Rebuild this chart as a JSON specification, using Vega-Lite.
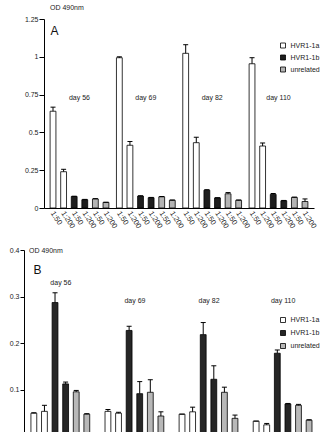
{
  "$schema": "https://vega.github.io/schema/vega-lite/v6.json",
  "padding": {"left": 0, "top": 3, "right": 0, "bottom": 0},
  "background": "white",
  "config": {
    "view": {"stroke": null},
    "font": "Liberation Sans",
    "concat": {"spacing": 16},
    "axis": {
      "domainColor": "black",
      "domainWidth": 1,
      "tickColor": "black",
      "tickWidth": 1,
      "labelColor": "#222",
      "labelFontSize": 7,
      "labelPadding": 2,
      "labelOverlap": false,
      "grid": false
    },
    "legend": {
      "title": null,
      "orient": "none",
      "padding": 0,
      "symbolType": "square",
      "symbolSize": 25,
      "symbolStrokeColor": "black",
      "symbolStrokeWidth": 0.8,
      "labelFontSize": 7,
      "labelColor": "#222",
      "labelOffset": 4
    },
    "title": {"fontSize": 7, "fontWeight": "normal", "color": "#222", "anchor": "start", "frame": "group"}
  },
  "datasets": {
    "days": [
      {"day": "day 56"}, {"day": "day 69"}, {"day": "day 82"}, {"day": "day 110"}
    ],
    "panelA": [
      {"day": "day 56", "antigen": "HVR1-1a", "dilution": "1:50", "series": "HVR1-1a 1:50", "od": 0.64, "upper": 0.667},
      {"day": "day 56", "antigen": "HVR1-1a", "dilution": "1:200", "series": "HVR1-1a 1:200", "od": 0.24, "upper": 0.256},
      {"day": "day 56", "antigen": "HVR1-1b", "dilution": "1:50", "series": "HVR1-1b 1:50", "od": 0.076, "upper": 0.078},
      {"day": "day 56", "antigen": "HVR1-1b", "dilution": "1:200", "series": "HVR1-1b 1:200", "od": 0.055, "upper": 0.057},
      {"day": "day 56", "antigen": "unrelated", "dilution": "1:50", "series": "unrelated 1:50", "od": 0.06, "upper": 0.062},
      {"day": "day 56", "antigen": "unrelated", "dilution": "1:200", "series": "unrelated 1:200", "od": 0.037, "upper": 0.038},
      {"day": "day 69", "antigen": "HVR1-1a", "dilution": "1:50", "series": "HVR1-1a 1:50", "od": 0.994, "upper": 1.0},
      {"day": "day 69", "antigen": "HVR1-1a", "dilution": "1:200", "series": "HVR1-1a 1:200", "od": 0.415, "upper": 0.44},
      {"day": "day 69", "antigen": "HVR1-1b", "dilution": "1:50", "series": "HVR1-1b 1:50", "od": 0.079, "upper": 0.081},
      {"day": "day 69", "antigen": "HVR1-1b", "dilution": "1:200", "series": "HVR1-1b 1:200", "od": 0.068, "upper": 0.07},
      {"day": "day 69", "antigen": "unrelated", "dilution": "1:50", "series": "unrelated 1:50", "od": 0.074, "upper": 0.076},
      {"day": "day 69", "antigen": "unrelated", "dilution": "1:200", "series": "unrelated 1:200", "od": 0.051, "upper": 0.053},
      {"day": "day 82", "antigen": "HVR1-1a", "dilution": "1:50", "series": "HVR1-1a 1:50", "od": 1.023, "upper": 1.08},
      {"day": "day 82", "antigen": "HVR1-1a", "dilution": "1:200", "series": "HVR1-1a 1:200", "od": 0.432, "upper": 0.468},
      {"day": "day 82", "antigen": "HVR1-1b", "dilution": "1:50", "series": "HVR1-1b 1:50", "od": 0.118, "upper": 0.121},
      {"day": "day 82", "antigen": "HVR1-1b", "dilution": "1:200", "series": "HVR1-1b 1:200", "od": 0.067, "upper": 0.068},
      {"day": "day 82", "antigen": "unrelated", "dilution": "1:50", "series": "unrelated 1:50", "od": 0.094, "upper": 0.102},
      {"day": "day 82", "antigen": "unrelated", "dilution": "1:200", "series": "unrelated 1:200", "od": 0.051, "upper": 0.053},
      {"day": "day 110", "antigen": "HVR1-1a", "dilution": "1:50", "series": "HVR1-1a 1:50", "od": 0.954, "upper": 0.994},
      {"day": "day 110", "antigen": "HVR1-1a", "dilution": "1:200", "series": "HVR1-1a 1:200", "od": 0.41, "upper": 0.43},
      {"day": "day 110", "antigen": "HVR1-1b", "dilution": "1:50", "series": "HVR1-1b 1:50", "od": 0.09, "upper": 0.096},
      {"day": "day 110", "antigen": "HVR1-1b", "dilution": "1:200", "series": "HVR1-1b 1:200", "od": 0.048, "upper": 0.05},
      {"day": "day 110", "antigen": "unrelated", "dilution": "1:50", "series": "unrelated 1:50", "od": 0.07, "upper": 0.072},
      {"day": "day 110", "antigen": "unrelated", "dilution": "1:200", "series": "unrelated 1:200", "od": 0.043, "upper": 0.06}
    ],
    "panelB": [
      {"day": "day 56", "antigen": "HVR1-1a", "dilution": "1:50", "series": "HVR1-1a 1:50", "od": 0.049, "upper": 0.05},
      {"day": "day 56", "antigen": "HVR1-1a", "dilution": "1:200", "series": "HVR1-1a 1:200", "od": 0.053, "upper": 0.066},
      {"day": "day 56", "antigen": "HVR1-1b", "dilution": "1:50", "series": "HVR1-1b 1:50", "od": 0.287, "upper": 0.308},
      {"day": "day 56", "antigen": "HVR1-1b", "dilution": "1:200", "series": "HVR1-1b 1:200", "od": 0.112, "upper": 0.116},
      {"day": "day 56", "antigen": "unrelated", "dilution": "1:50", "series": "unrelated 1:50", "od": 0.095, "upper": 0.098},
      {"day": "day 56", "antigen": "unrelated", "dilution": "1:200", "series": "unrelated 1:200", "od": 0.047, "upper": 0.048},
      {"day": "day 69", "antigen": "HVR1-1a", "dilution": "1:50", "series": "HVR1-1a 1:50", "od": 0.053, "upper": 0.057},
      {"day": "day 69", "antigen": "HVR1-1a", "dilution": "1:200", "series": "HVR1-1a 1:200", "od": 0.049, "upper": 0.051},
      {"day": "day 69", "antigen": "HVR1-1b", "dilution": "1:50", "series": "HVR1-1b 1:50", "od": 0.227, "upper": 0.236},
      {"day": "day 69", "antigen": "HVR1-1b", "dilution": "1:200", "series": "HVR1-1b 1:200", "od": 0.091, "upper": 0.117},
      {"day": "day 69", "antigen": "unrelated", "dilution": "1:50", "series": "unrelated 1:50", "od": 0.094, "upper": 0.121},
      {"day": "day 69", "antigen": "unrelated", "dilution": "1:200", "series": "unrelated 1:200", "od": 0.043, "upper": 0.052},
      {"day": "day 82", "antigen": "HVR1-1a", "dilution": "1:50", "series": "HVR1-1a 1:50", "od": 0.047, "upper": 0.047},
      {"day": "day 82", "antigen": "HVR1-1a", "dilution": "1:200", "series": "HVR1-1a 1:200", "od": 0.052, "upper": 0.062},
      {"day": "day 82", "antigen": "HVR1-1b", "dilution": "1:50", "series": "HVR1-1b 1:50", "od": 0.218, "upper": 0.244},
      {"day": "day 82", "antigen": "HVR1-1b", "dilution": "1:200", "series": "HVR1-1b 1:200", "od": 0.122, "upper": 0.151},
      {"day": "day 82", "antigen": "unrelated", "dilution": "1:50", "series": "unrelated 1:50", "od": 0.094, "upper": 0.105},
      {"day": "day 82", "antigen": "unrelated", "dilution": "1:200", "series": "unrelated 1:200", "od": 0.038, "upper": 0.045},
      {"day": "day 110", "antigen": "HVR1-1a", "dilution": "1:50", "series": "HVR1-1a 1:50", "od": 0.032, "upper": 0.032},
      {"day": "day 110", "antigen": "HVR1-1a", "dilution": "1:200", "series": "HVR1-1a 1:200", "od": 0.024, "upper": 0.027},
      {"day": "day 110", "antigen": "HVR1-1b", "dilution": "1:50", "series": "HVR1-1b 1:50", "od": 0.178, "upper": 0.185},
      {"day": "day 110", "antigen": "HVR1-1b", "dilution": "1:200", "series": "HVR1-1b 1:200", "od": 0.069, "upper": 0.07},
      {"day": "day 110", "antigen": "unrelated", "dilution": "1:50", "series": "unrelated 1:50", "od": 0.066, "upper": 0.068},
      {"day": "day 110", "antigen": "unrelated", "dilution": "1:200", "series": "unrelated 1:200", "od": 0.034, "upper": 0.035}
    ]
  },
  "resolve": {"scale": {"color": "independent", "fill": "independent"}, "legend": {"color": "independent", "fill": "independent"}},
  "vconcat": [
    {
      "width": 290,
      "height": 189,
      "title": {"text": "OD 490nm", "anchor": "start", "frame": "group", "dx": 26, "offset": 4.5},
      "encoding": {
        "x": {"field": "day", "type": "nominal", "sort": ["day 56", "day 69", "day 82", "day 110"],
              "scale": {"range": [20, 290], "paddingInner": 0.05, "paddingOuter": 0.06},
              "axis": {"title": null, "ticks": false, "labels": false, "domain": true}}
      },
      "layer": [
        {
          "data": {"name": "panelA"},
          "mark": {"type": "bar", "stroke": "black", "strokeWidth": 0.8},
          "encoding": {
            "xOffset": {"field": "series", "type": "nominal",
                        "sort": ["HVR1-1a 1:50", "HVR1-1a 1:200", "HVR1-1b 1:50", "HVR1-1b 1:200", "unrelated 1:50", "unrelated 1:200"],
                        "scale": {"paddingInner": 0.45, "paddingOuter": 0.2}},
            "y": {"field": "od", "type": "quantitative", "scale": {"domain": [0, 1.25], "nice": false},
                  "axis": {"values": [0, 0.25, 0.5, 0.75, 1, 1.25], "tickCount": 6, "labelExpr": "'' + datum.value", "labelOverlap": false,
                           "offset": -20, "tickSize": 5, "labelPadding": 1,
                           "title": "A", "titleAngle": 0, "titleAlign": "left", "titleBaseline": "alphabetic",
                           "titleX": 6, "titleY": 15, "titleFontSize": 12, "titleFontWeight": "normal", "titleColor": "#111"}},
            "color": {"field": "antigen", "type": "nominal",
                      "scale": {"domain": ["HVR1-1a", "HVR1-1b", "unrelated"], "range": ["#ffffff", "#1e1e1e", "#b4b4b4"]},
                      "legend": {"legendX": 255.5, "legendY": 23, "rowPadding": 3}}
          }
        },
        {
          "data": {"name": "panelA"},
          "mark": {"type": "rule", "color": "black", "strokeWidth": 1},
          "encoding": {
            "xOffset": {"field": "series", "type": "nominal",
                        "sort": ["HVR1-1a 1:50", "HVR1-1a 1:200", "HVR1-1b 1:50", "HVR1-1b 1:200", "unrelated 1:50", "unrelated 1:200"]},
            "y": {"field": "od", "type": "quantitative"},
            "y2": {"field": "upper"}
          }
        },
        {
          "data": {"name": "panelA"},
          "mark": {"type": "tick", "color": "black", "size": 5, "thickness": 1, "opacity": 1},
          "encoding": {
            "xOffset": {"field": "series", "type": "nominal",
                        "sort": ["HVR1-1a 1:50", "HVR1-1a 1:200", "HVR1-1b 1:50", "HVR1-1b 1:200", "unrelated 1:50", "unrelated 1:200"]},
            "y": {"field": "upper", "type": "quantitative"}
          }
        },
        {
          "data": {"name": "panelA"},
          "mark": {"type": "text", "angle": 57, "align": "left", "baseline": "middle", "fontSize": 7.5, "color": "#222", "dx": 3, "dy": 3},
          "encoding": {
            "xOffset": {"field": "series", "type": "nominal",
                        "sort": ["HVR1-1a 1:50", "HVR1-1a 1:200", "HVR1-1b 1:50", "HVR1-1b 1:200", "unrelated 1:50", "unrelated 1:200"]},
            "y": {"datum": 0},
            "text": {"field": "dilution"}
          }
        },
        {
          "data": {"name": "days"},
          "mark": {"type": "text", "fontSize": 7, "color": "#222", "baseline": "middle"},
          "encoding": {
            "y": {"datum": 0.73},
            "text": {"field": "day"}
          }
        }
      ]
    },
    {
      "width": 296,
      "height": 186,
      "title": {"text": "OD 490nm", "anchor": "start", "frame": "group", "dx": 5, "dy": 12, "offset": 4},
      "encoding": {
        "x": {"field": "day", "type": "nominal", "sort": ["day 56", "day 69", "day 82", "day 110"],
              "scale": {"paddingInner": 0.135, "paddingOuter": 0.065},
              "axis": null}
      },
      "layer": [
        {
          "data": {"name": "panelB"},
          "mark": {"type": "bar", "stroke": "black", "strokeWidth": 0.8},
          "encoding": {
            "xOffset": {"field": "series", "type": "nominal",
                        "sort": ["HVR1-1a 1:50", "HVR1-1a 1:200", "HVR1-1b 1:50", "HVR1-1b 1:200", "unrelated 1:50", "unrelated 1:200"],
                        "scale": {"paddingInner": 0.45, "paddingOuter": 0.2}},
            "y": {"field": "od", "type": "quantitative", "scale": {"domain": [0, 0.4], "nice": false},
                  "axis": {"values": [0.1, 0.2, 0.3, 0.4], "tickCount": 6, "labelExpr": "'' + datum.value", "labelOverlap": false,
                           "tickSize": 4, "labelPadding": 1, "minExtent": 24,
                           "title": "B", "titleAngle": 0, "titleAlign": "left", "titleBaseline": "alphabetic",
                           "titleX": 9, "titleY": 23, "titleFontSize": 12, "titleFontWeight": "normal", "titleColor": "#111"}},
            "fill": {"field": "antigen", "type": "nominal",
                     "scale": {"domain": ["HVR1-1a", "HVR1-1b", "unrelated"], "range": ["#ffffff", "#262626", "#b8b8b8"]},
                     "legend": {"legendX": 255.5, "legendY": 66.5, "rowPadding": 4}}
          }
        },
        {
          "data": {"name": "panelB"},
          "mark": {"type": "rule", "color": "black", "strokeWidth": 1},
          "encoding": {
            "xOffset": {"field": "series", "type": "nominal",
                        "sort": ["HVR1-1a 1:50", "HVR1-1a 1:200", "HVR1-1b 1:50", "HVR1-1b 1:200", "unrelated 1:50", "unrelated 1:200"]},
            "y": {"field": "od", "type": "quantitative"},
            "y2": {"field": "upper"}
          }
        },
        {
          "data": {"name": "panelB"},
          "mark": {"type": "tick", "color": "black", "size": 5, "thickness": 1, "opacity": 1},
          "encoding": {
            "xOffset": {"field": "series", "type": "nominal",
                        "sort": ["HVR1-1a 1:50", "HVR1-1a 1:200", "HVR1-1b 1:50", "HVR1-1b 1:200", "unrelated 1:50", "unrelated 1:200"]},
            "y": {"field": "upper", "type": "quantitative"}
          }
        },
        {
          "data": {"name": "days"},
          "transform": [{"filter": "datum.day === 'day 56'"}],
          "mark": {"type": "text", "fontSize": 7, "color": "#222", "baseline": "middle"},
          "encoding": {
            "y": {"datum": 0.33},
            "text": {"field": "day"}
          }
        },
        {
          "data": {"name": "days"},
          "transform": [{"filter": "datum.day !== 'day 56'"}],
          "mark": {"type": "text", "fontSize": 7, "color": "#222", "baseline": "middle"},
          "encoding": {
            "y": {"datum": 0.29},
            "text": {"field": "day"}
          }
        }
      ]
    }
  ]
}
